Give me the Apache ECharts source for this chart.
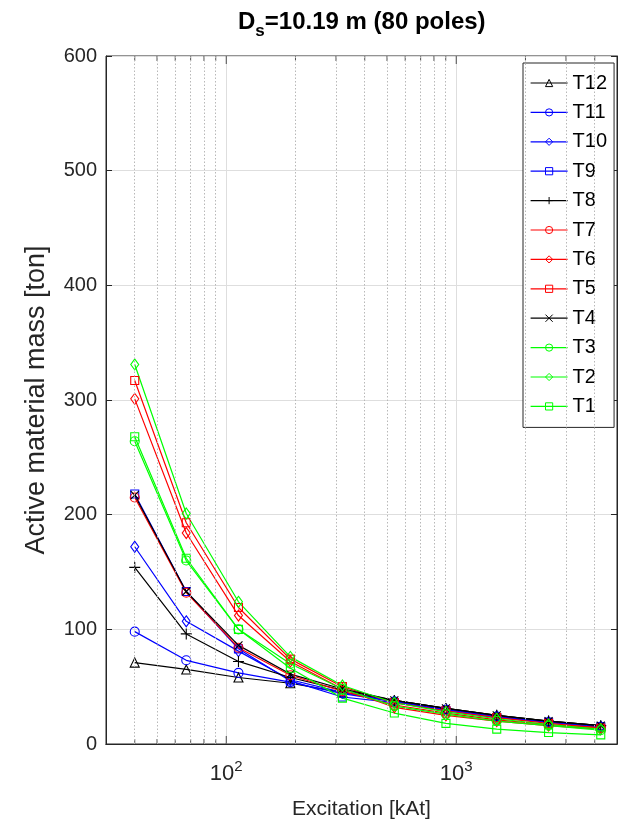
<!DOCTYPE html>
<html>
<head>
<meta charset="utf-8">
<script src="https://cdn.jsdelivr.net/npm/echarts@6/dist/echarts.min.js"></script>
<style>
html,body{margin:0;padding:0;background:#fff;}
#chart{width:628px;height:827px;}
</style>
</head>
<body>
<div id="chart"></div>
<script>
// ---- data ----
const excitation = [40, 67, 113, 190, 320, 538, 902, 1500, 2520, 4250];
const seriesNames = ['T12','T11','T10','T9','T8','T7','T6','T5','T4','T3','T2','T1'];
const T12 = [71, 65, 58, 53, 45, 38, 31, 25, 20, 16];
const T11 = [98, 73, 62, 54, 44, 37, 30, 24, 19, 15];
const T10 = [172, 107, 81, 56, 45, 37, 30, 24, 19, 15];
const T9  = [218, 133, 83, 55, 41, 36, 29, 23, 19, 15];
const T8  = [154, 96, 72, 58, 47, 38, 31, 25, 20, 16];
const T7  = [215, 132, 84, 60, 46, 34, 27, 21, 17, 14];
const T6  = [301, 184, 112, 72, 48, 32, 25, 20, 16, 13];
const T5  = [317, 193, 119, 74, 50, 36, 29, 23, 18, 14];
const T4  = [217, 133, 86, 61, 48, 38, 31, 25, 20, 16];
const T3  = [264, 160, 100, 70, 48, 33, 26, 20, 16, 12];
const T2  = [331, 201, 124, 76, 51, 36, 28, 22, 17, 13];
const T1  = [268, 162, 100, 66, 40, 27, 18, 13, 10, 8];
const yTicks = [0, 100, 200, 300, 400, 500, 600];
const majorTicks = [100, 1000];
const minorTicks = [40,50,60,70,80,90,200,300,400,500,600,700,800,900,2000,3000,4000];

const values = {T12,T11,T10,T9,T8,T7,T6,T5,T4,T3,T2,T1};
const colors = {T12:'#000000',T11:'#0000ff',T10:'#0000ff',T9:'#0000ff',T8:'#000000',T7:'#ff0000',T6:'#ff0000',T5:'#ff0000',T4:'#000000',T3:'#00ff00',T2:'#00ff00',T1:'#00ff00'};
const PLUS = 'path://M0,5L10,5M5,0L5,10';
const CROSS = 'path://M0,0L10,10M0,10L10,0';
const symbols = {T12:['triangle',9],T11:['circle',9],T10:['diamond',[8,11]],T9:['rect',8],T8:[PLUS,11],T7:['circle',9],T6:['diamond',[8,11]],T5:['rect',8],T4:[CROSS,8],T3:['circle',9],T2:['diamond',[8,11]],T1:['rect',8]};

const axisColor = '#262626';
const font = '"Liberation Sans", Arial, Helvetica, sans-serif';

const dataSeries = seriesNames.map(n => ({
  name: n,
  type: 'line',
  data: excitation.map((x, i) => [x, values[n][i]]),
  symbol: symbols[n][0],
  symbolSize: symbols[n][1],
  showSymbol: true,
  lineStyle: {color: colors[n], width: 1.2},
  itemStyle: {color: 'rgba(255,255,255,0)', borderColor: colors[n], borderWidth: 1.1},
  emphasis: {disabled: true},
  z: 3
}));

function tickSeries(name, list, yVal, len, dir) {
  return {
    name: name, type: 'scatter', silent: true, z: 2,
    data: list.map(v => [v, yVal]),
    symbol: 'rect', symbolSize: [1, len], symbolOffset: [0, dir * len / 2],
    itemStyle: {color: axisColor}
  };
}

const extraSeries = [
  {
    name: 'minorGrid', type: 'line', data: [], silent: true, z: 1,
    markLine: {
      silent: true, symbol: ['none','none'], label: {show: false},
      lineStyle: {color: '#b8b8b8', type: [1.5, 2], width: 1},
      data: minorTicks.map(v => ({xAxis: v}))
    }
  },
  tickSeries('minorTickBottom', minorTicks, yTicks[0], 5, -1),
  tickSeries('minorTickTop', minorTicks, yTicks[yTicks.length - 1], 5, 1),
  tickSeries('majorTickBottom', majorTicks, yTicks[0], 8, -1),
  tickSeries('majorTickTop', majorTicks, yTicks[yTicks.length - 1], 8, 1)
];

const isPow10 = v => Math.abs(Math.log10(v) - Math.round(Math.log10(v))) < 1e-6;

const chart = echarts.init(document.getElementById('chart'), null, {renderer: 'canvas'});
chart.setOption({
  animation: false,
  backgroundColor: '#ffffff',
  textStyle: {fontFamily: font},
  title: {
    left: 238,
    top: 4,
    padding: 0,
    text: '{d|D}{sub|s}{d|=10.19 m (80 poles)}',
    textStyle: {
      rich: {
        d: {fontFamily: font, fontSize: 24, fontWeight: 'bold', color: '#000', lineHeight: 36},
        sub: {fontFamily: font, fontSize: 17, fontWeight: 'bold', color: '#000', lineHeight: 17, verticalAlign: 'bottom'}
      }
    }
  },
  legend: {
    orient: 'vertical',
    left: 523,
    top: 63,
    data: seriesNames,
    itemWidth: 37,
    itemHeight: 9,
    itemGap: 9.4,
    padding: [10, 7, 11, 7],
    backgroundColor: '#ffffff',
    borderColor: '#262626',
    borderWidth: 1,
    borderRadius: 0,
    itemStyle: {color: 'rgba(255,255,255,0)', borderWidth: 1},
    lineStyle: {width: 1.2},
    textStyle: {fontFamily: font, fontSize: 20, color: '#000', lineHeight: 20, padding: [0,0,0,0]},
    selectedMode: false
  },
  grid: {
    left: 106, right: 11, top: 56, bottom: 83,
    show: true, borderColor: axisColor, borderWidth: 1, backgroundColor: 'transparent',
    containLabel: false
  },
  xAxis: [{
    type: 'log',
    logBase: 10,
    min: 30,
    max: 5000,
    name: 'Excitation [kAt]',
    nameLocation: 'middle',
    nameGap: 55,
    nameTextStyle: {fontFamily: font, fontSize: 21, color: axisColor},
    axisLine: {show: true, onZero: false, lineStyle: {color: axisColor, width: 1}},
    axisTick: {show: false},
    axisLabel: {
      margin: 15,
      showMinLabel: false, showMaxLabel: false,
      formatter: v => isPow10(v) ? '{b|10}{s|' + Math.round(Math.log10(v)) + '}' : '',
      rich: {
        b: {fontFamily: font, fontSize: 22, color: axisColor, lineHeight: 30},
        s: {fontFamily: font, fontSize: 15, color: axisColor, lineHeight: 15, verticalAlign: 'top'}
      }
    },
    splitLine: {show: true, lineStyle: {color: '#dedede', width: 1}}
  }, {
    type: 'log', logBase: 10, min: 30, max: 5000, position: 'top',
    axisLine: {show: true, lineStyle: {color: axisColor}},
    axisTick: {show: false},
    axisLabel: {show: false}, splitLine: {show: false}
  }],
  yAxis: [{
    type: 'value',
    min: yTicks[0],
    max: yTicks[yTicks.length - 1],
    interval: 100,
    name: 'Active material mass [ton]',
    nameLocation: 'middle',
    nameGap: 56,
    nameTextStyle: {fontFamily: font, fontSize: 27, color: axisColor},
    axisLine: {show: true, lineStyle: {color: axisColor, width: 1}},
    axisTick: {show: true, inside: true, length: 6, lineStyle: {color: axisColor}},
    axisLabel: {margin: 9, fontFamily: font, fontSize: 20, color: axisColor},
    splitLine: {show: true, lineStyle: {color: '#dedede', width: 1}}
  }, {
    type: 'value', min: yTicks[0], max: yTicks[yTicks.length - 1], interval: 100, position: 'right',
    axisLine: {show: true, lineStyle: {color: axisColor}},
    axisTick: {show: true, inside: true, length: 6, lineStyle: {color: axisColor}},
    axisLabel: {show: false}, splitLine: {show: false}
  }],
  series: extraSeries.concat(dataSeries)
});
</script>
</body>
</html>
